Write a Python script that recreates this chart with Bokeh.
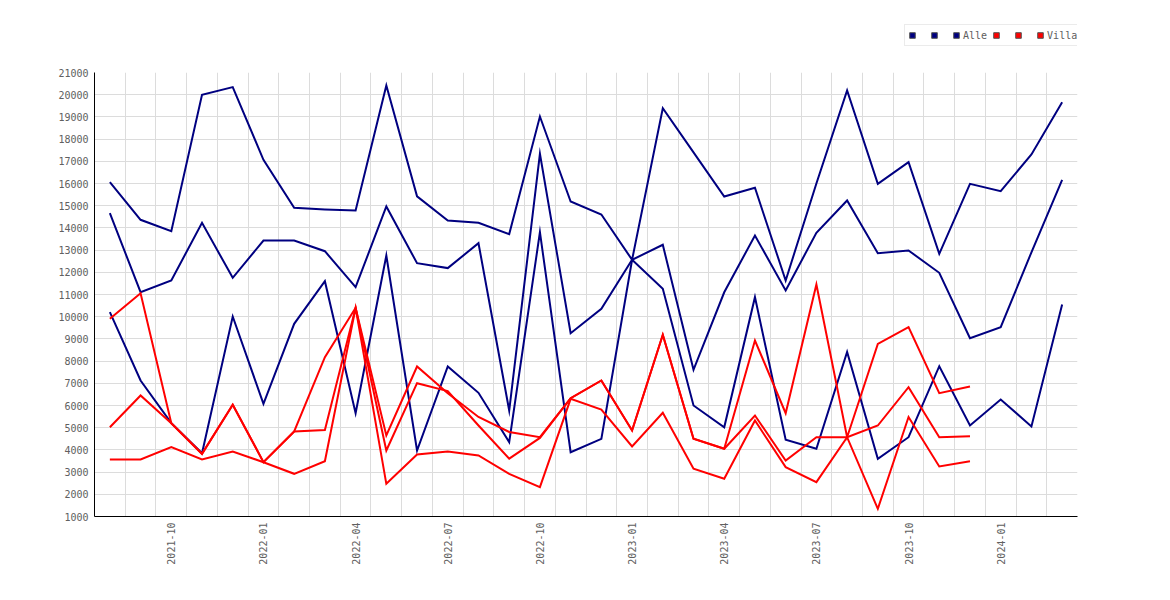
import math
from bokeh.plotting import figure
from bokeh.layouts import column
from bokeh.models import (ColumnDataSource, FixedTicker, SingleIntervalTicker,
                          Legend, LegendItem, Range1d)
from bokeh.embed import file_html
from bokeh.resources import INLINE

months = ["2021-08", "2021-09", "2021-10", "2021-11", "2021-12",
          "2022-01", "2022-02", "2022-03", "2022-04", "2022-05", "2022-06",
          "2022-07", "2022-08", "2022-09", "2022-10", "2022-11", "2022-12",
          "2023-01", "2023-02", "2023-03", "2023-04", "2023-05", "2023-06",
          "2023-07", "2023-08", "2023-09", "2023-10", "2023-11", "2023-12",
          "2024-01", "2024-02", "2024-03"]

alle_1 = [16059, 14365, 13851, 20000, 20340, 17068, 14905, 14830, 14784, 20414,
          15423, 14333, 14230, 13721, 19018, 15189, 14604, 12563, 19390, 17400,
          15414, 15806, 11631, 16000, 20189, 15986, 16960, 12833, 15986, 15654,
          17306, 19662]
alle_2 = [14662, 11104, 11631, 14230, 11750, 13432, 13432, 12950, 11330, 14964,
          12410, 12189, 13311, 5775, 17338, 9258, 10356, 12563, 13239, 7607,
          11100, 13658, 11180, 13779, 15234, 12860, 12982, 11977, 9032, 9527,
          12900, 16167]
alle_3 = [10203, 7126, 5203, 3851, 10009, 6076, 9680, 11600, 5653, 12757,
          3973, 7757, 6572, 4347, 13808, 3896, 4500, 12563, 11257, 6000,
          5022, 10880, 4455, 4050, 8410, 3599, 4572, 7770, 5099, 6270,
          5054, 10550]

villa_1 = [9905, 11059, 5203, 3823, 6031, 3450, 4830, 4900, 10400, 4649,
           7757, 6550, 5482, 4806, 4572, 6329, 7126, 4874, 9185, 4500,
           4050, 8928, 5653, 11450, 4572, 8778, 9527, 6554, 6856]
villa_2 = [5022, 6450, 5203, 3823, 6031, 3450, 4830, 8177, 10400, 3973,
           7005, 6650, 5099, 3606, 4540, 6329, 7126, 4874, 9185, 4500,
           4050, 5549, 3523, 4572, 4572, 5099, 6824, 4572, 4617]
villa_3 = [3568, 3568, 4122, 3568, 3928, 3446, 2923, 3491, 10396, 2473,
           3793, 3928, 3748, 2923, 2320, 6300, 5820, 4153, 5670, 3149,
           2698, 5324, 3222, 2548, 4572, 1347, 5482, 3252, 3491]

legend_labels = [" ", " ", "Alle", " ", " ", "Villa"]

y_min, y_max, y_step = 1000, 21000, 1000

BLUE = "#000080"
RED = "#ff0000"
TEXT = "#606060"
GRID = "#dcdcdc"
FONT = "DejaVu Sans Mono"

n = len(months)
p = figure(width=1162, height=544, output_backend="svg", toolbar_location=None,
           x_range=Range1d(-0.5, n - 0.5), y_range=Range1d(y_min, y_max),
           min_border_left=94, min_border_right=85, min_border_top=26,
           min_border_bottom=74)
p.outline_line_color = None
p.background_fill_color = "white"

all_series = [(alle_1, BLUE), (alle_2, BLUE), (alle_3, BLUE),
              (villa_1, RED), (villa_2, RED), (villa_3, RED)]
for series, color in all_series:
    src = ColumnDataSource(dict(x=list(range(len(series))), y=series))
    p.line("x", "y", source=src, line_color=color, line_width=2,
           line_join="miter")

# grid
p.xgrid.ticker = FixedTicker(ticks=[i + 0.5 for i in range(n)])
p.ygrid.ticker = SingleIntervalTicker(interval=y_step)
for g in (p.xgrid, p.ygrid):
    g.grid_line_color = GRID
    g.grid_line_width = 1

# axes
quarter_idx = [i for i, m in enumerate(months) if m[-2:] in ("01", "04", "07", "10")]
p.xaxis.ticker = FixedTicker(ticks=quarter_idx)
p.xaxis.major_label_overrides = {i: months[i] for i in quarter_idx}
p.xaxis.major_label_orientation = math.pi / 2
p.yaxis.ticker = SingleIntervalTicker(interval=y_step)
for ax in (p.xaxis, p.yaxis):
    ax.axis_line_color = "black"
    ax.axis_line_width = 1
    ax.major_tick_line_color = None
    ax.minor_tick_line_color = None
    ax.major_tick_out = 0
    ax.major_tick_in = 0
    ax.minor_tick_out = 0
    ax.minor_tick_in = 0
    ax.major_label_text_font = FONT
    ax.major_label_text_font_size = "10px"
    ax.major_label_text_color = TEXT
    ax.major_label_standoff = 6

# legend strip above the chart (hidden handle renderers carry the series data)
lg = figure(width=1162, height=46, output_backend="svg", toolbar_location=None,
            x_range=Range1d(0, 1), y_range=Range1d(0, 1),
            x_axis_type=None, y_axis_type=None, min_border=0)
lg.outline_line_color = None
handles = []
for series, color in all_series:
    h = lg.scatter(x=list(range(len(series))), y=series, marker="square",
                   fill_color=color, line_color="#555555", line_width=1)
    h.visible = False
    handles.append(h)
items = [LegendItem(label=lab, renderers=[handles[k]])
         for k, lab in enumerate(legend_labels)]
legend = Legend(items=items, orientation="horizontal", location=(810, 0),
                glyph_width=14, glyph_height=20, label_height=20,
                label_width=6, label_standoff=0, spacing=2, padding=0,
                margin=0, label_text_font=FONT, label_text_font_size="10px",
                label_text_color=TEXT, border_line_color="#d8d8d8",
                border_line_width=1, background_fill_color="white",
                background_fill_alpha=1.0, click_policy="none")
lg.add_layout(legend, "center")

layout = column(lg, p, spacing=0)
open("out.html", "w").write(file_html(layout, INLINE))
